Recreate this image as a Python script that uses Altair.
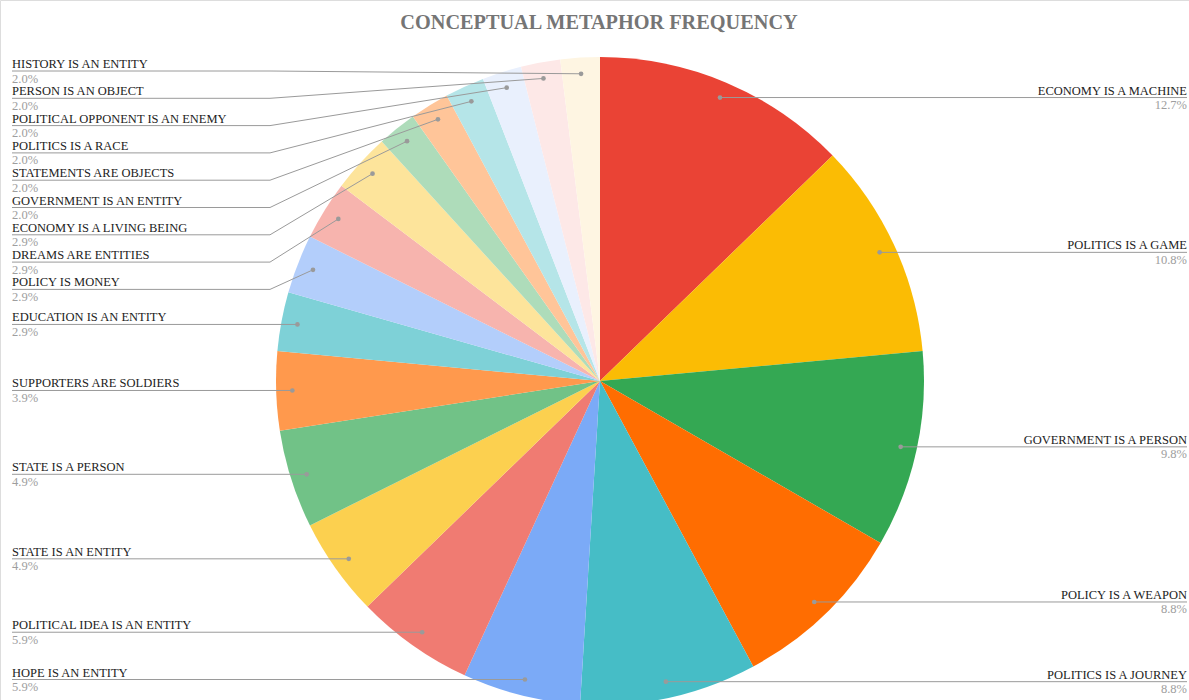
import math

import altair as alt
import pandas as pd

# Conceptual metaphors, clockwise from 12 o'clock, with their occurrence counts
names = [
    "ECONOMY IS A MACHINE",
    "POLITICS IS A GAME",
    "GOVERNMENT IS A PERSON",
    "POLICY IS A WEAPON",
    "POLITICS IS A JOURNEY",
    "HOPE IS AN ENTITY",
    "POLITICAL IDEA IS AN ENTITY",
    "STATE IS AN ENTITY",
    "STATE IS A PERSON",
    "SUPPORTERS ARE SOLDIERS",
    "EDUCATION IS AN ENTITY",
    "POLICY IS MONEY",
    "DREAMS ARE ENTITIES",
    "ECONOMY IS A LIVING BEING",
    "GOVERNMENT IS AN ENTITY",
    "STATEMENTS ARE OBJECTS",
    "POLITICS IS A RACE",
    "POLITICAL OPPONENT IS AN ENEMY",
    "PERSON IS AN OBJECT",
    "HISTORY IS AN ENTITY",
]
counts = [13, 11, 10, 9, 9, 6, 6, 5, 5, 4, 3, 3, 3, 3, 2, 2, 2, 2, 2, 2]
colors = [
    "#ea4335", "#fbbc04", "#34a853", "#ff6d01", "#46bdc6",
    "#7baaf7", "#f07b72", "#fcd04f", "#71c287", "#ff994d",
    "#7ed1d7", "#b3cefb", "#f7b4ae", "#fde49b", "#aedcba",
    "#ffc599", "#b5e5e8", "#e9f0fd", "#fde8e7", "#fef5e2",
]

# Layout constants
W, H = 1189, 700
CX, CY, R = 600, 381, 324
DOT_R = 0.95 * R
LEFT_X, RIGHT_X, BEND_X = 12, 1187, 270
TOP_Y, GAP = 71, 27.3
FONT = "Liberation Serif"
LINE_GREY = "#9a9a9a"

total = sum(counts)
pie_df = pd.DataFrame({"idx": range(len(names)), "name": names, "count": counts})
pie_df["pct"] = [f"{c / total * 100:.1f}%" for c in counts]

# Anchor point of each leader line, inside its slice
start = 0.0
dot_x, dot_y = [], []
for c in counts:
    a = (start + c / 2) / total * 2 * math.pi
    dot_x.append(CX + DOT_R * math.sin(a))
    dot_y.append(CY - DOT_R * math.cos(a))
    start += c
pie_df["dx"] = dot_x
pie_df["dy"] = dot_y
pie_df["side"] = ["right" if x > CX else "left" for x in dot_x]

# Right-hand labels sit level with their anchors; left-hand ones are stacked
# top-down so they never overlap.
label_y = dict(zip(pie_df["idx"], pie_df["dy"]))
left = pie_df[pie_df["side"] == "left"].sort_values("dy")
prev = None
for i, row in left.iterrows():
    y = TOP_Y if prev is None else max(row["dy"], prev + GAP)
    label_y[row["idx"]] = y
    prev = y
pie_df["ly"] = pie_df["idx"].map(label_y)

line_rows = []
for _, r in pie_df.iterrows():
    if r["side"] == "right":
        pts = [(r["dx"], r["dy"]), (RIGHT_X, r["ly"])]
    else:
        pts = [(r["dx"], r["dy"]), (BEND_X, r["ly"]), (LEFT_X, r["ly"])]
    for k, (x, y) in enumerate(pts):
        line_rows.append({"name": r["name"], "k": k, "x": x, "y": y})
lines_df = pd.DataFrame(line_rows)

pie_df["name_y"] = pie_df["ly"] - 3
pie_df["pct_y"] = pie_df["ly"] + 11.5
pie_df["tx"] = [RIGHT_X if s == "right" else LEFT_X for s in pie_df["side"]]

xs = alt.X("x:Q", scale=None, axis=None)
ys = alt.Y("y:Q", scale=None, axis=None)

pie = alt.Chart(pie_df).mark_arc(radius=R).encode(
    theta=alt.Theta("count:Q", stack=True),
    color=alt.Color("name:N", scale=alt.Scale(domain=names, range=colors), legend=None),
    order=alt.Order("idx:Q"),
    x=alt.value(CX),
    y=alt.value(CY),
)

leaders = alt.Chart(lines_df).mark_line(color=LINE_GREY, strokeWidth=1).encode(
    x=xs, y=ys, detail="name:N", order="k:Q"
)

dots = alt.Chart(pie_df).mark_circle(color=LINE_GREY, size=22, opacity=1).encode(
    x=alt.X("dx:Q", scale=None, axis=None), y=alt.Y("dy:Q", scale=None, axis=None)
)


def label_layer(side, align):
    base = alt.Chart(pie_df).transform_filter(alt.datum.side == side)
    name_txt = base.mark_text(
        font=FONT, fontSize=12.5, color="#222222", align=align, baseline="alphabetic"
    ).encode(
        x=alt.X("tx:Q", scale=None, axis=None),
        y=alt.Y("name_y:Q", scale=None, axis=None),
        text="name:N",
    )
    pct_txt = base.mark_text(
        font=FONT, fontSize=12.5, color="#9e9e9e", align=align, baseline="alphabetic"
    ).encode(
        x=alt.X("tx:Q", scale=None, axis=None),
        y=alt.Y("pct_y:Q", scale=None, axis=None),
        text="pct:N",
    )
    return name_txt + pct_txt


title = alt.Chart(pd.DataFrame({"t": ["CONCEPTUAL METAPHOR FREQUENCY"]})).mark_text(
    font=FONT, fontSize=20.3, fontWeight="bold", color="#757575", align="center",
    baseline="alphabetic",
).encode(x=alt.value(599), y=alt.value(29), text="t:N")

chart = (
    alt.layer(pie, leaders, dots, label_layer("left", "left"), label_layer("right", "right"), title)
    .properties(width=W, height=H, autosize=alt.AutoSizeParams(type="none"), padding=0)
    .configure_view(stroke=None)
    .configure(background="white")
)

chart.save("out.html", embed_options={"renderer": "svg", "actions": False})
